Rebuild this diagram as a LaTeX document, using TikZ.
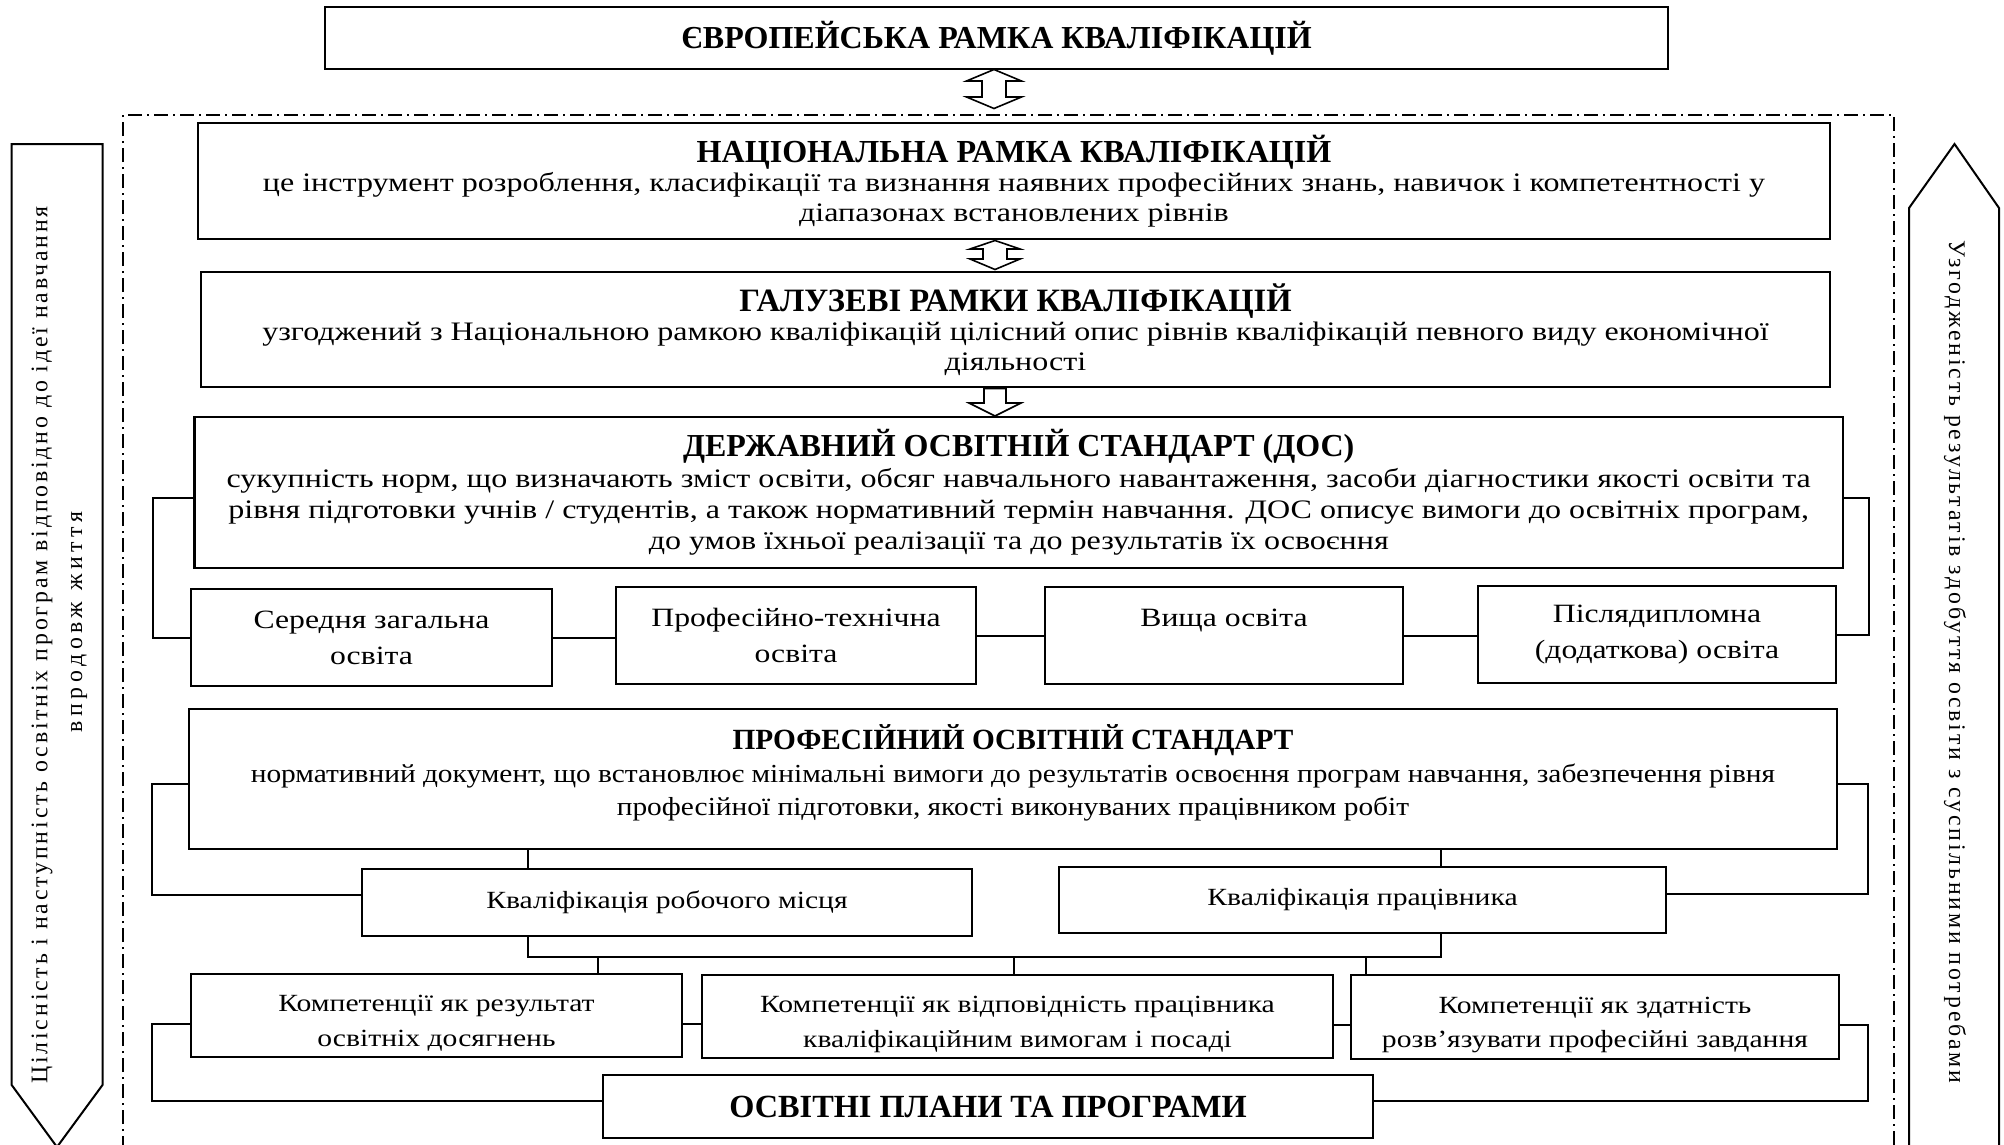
\documentclass[tikz,border=0pt]{standalone}
\usepackage{fontspec}
\setmainfont{Liberation Serif}
\newfontfamily\bodyfont[FakeStretch=1.2]{Liberation Serif}
\newfontfamily\proffont[FakeStretch=1.13]{Liberation Serif}
\newfontfamily\sidefont[LetterSpace=12]{Liberation Serif}
\newfontfamily\sidefontb[LetterSpace=19.6]{Liberation Serif}
\begin{document}
\begin{tikzpicture}[x=1pt,y=-1pt,
  box/.style={draw, line width=2.6pt, align=center, inner sep=0pt},
  bodytxt/.style={font=\bodyfont\fontsize{26.7}{29.5}\selectfont},
  smalltxt/.style={font=\bodyfont\fontsize{26.4}{36}\selectfont},
  comptxt/.style={font=\bodyfont\fontsize{24.7}{34.5}\selectfont},
  titletxt/.style={font=\rmfamily\fontsize{32}{36}\selectfont\bfseries},
  conn/.style={line width=2pt},
  blockarrow/.style={draw, line width=1.6pt, line join=miter},
  sidearrow/.style={draw, line width=2pt, line join=miter},
  frameline/.style={line width=1.6pt, dash pattern=on 14pt off 5pt on 2pt off 5pt},
  sidetxt/.style={font=\sidefont\fontsize{23.8}{26}\selectfont, inner sep=0pt}
]
\useasboundingbox (0,0) rectangle (2004,1144);
\fill[white] (0,0) rectangle (2004,1144);

% dash-dot frame
\coordinate (fl) at (123,1150);
\coordinate (fr) at (1894,1150);
\draw[frameline] (fl) -- (fl |- 0,115) -- (fr |- 0,115) -- (fr);

% side arrows
\draw[sidearrow] (11.7,144) -- (102.5,144) -- (102.5,1085) -- (57,1147) -- (11.7,1085) -- cycle;
\draw[sidearrow] (1954.5,144) -- (1999,208) -- (1999,1170) -- (1909,1170) -- (1909,208) -- cycle;
\node[sidetxt, rotate=90] (lt1) at (42,645) {Цілісність і наступність освітніх програм відповідно до ідеї навчання};
\node[sidetxt, font=\sidefontb\fontsize{23.8}{26}\selectfont, rotate=90] (lt2) at (79,622) {впродовж життя};
\node[sidetxt, rotate=-90] (rt) at (1955,662) {Узгодженість результатів здобуття освіти з суспільними потребами};

% main boxes
\node[box, titletxt, minimum width=1343, minimum height=62] (eu) at (996.5,38) {ЄВРОПЕЙСЬКА РАМКА КВАЛІФІКАЦІЙ};
\node[box, bodytxt, minimum width=1632, minimum height=116] (nac) at (1014,181)
 {{\rmfamily\fontsize{32.1}{34}\selectfont\bfseries НАЦІОНАЛЬНА РАМКА КВАЛІФІКАЦІЙ}\\
  це інструмент розроблення, класифікації та визнання наявних професійних знань, навичок і компетентності у\\
  діапазонах встановлених рівнів};
\node[box, bodytxt, minimum width=1629, minimum height=115] (gal) at (1015.5,329.5)
 {{\rmfamily\fontsize{32.6}{34}\selectfont\bfseries ГАЛУЗЕВІ РАМКИ КВАЛІФІКАЦІЙ}\\
  узгоджений з Національною рамкою кваліфікацій цілісний опис рівнів кваліфікацій певного виду економічної\\
  діяльності};
\node[box, bodytxt, font=\bodyfont\fontsize{26.7}{31}\selectfont, minimum width=1648.5, minimum height=151] (dos) at (1018.75,492.5)
 {{\rmfamily\fontsize{32}{34}\selectfont\bfseries ДЕРЖАВНИЙ ОСВІТНІЙ СТАНДАРТ (ДОС)}\\
  сукупність норм, що визначають зміст освіти, обсяг навчального навантаження, засоби діагностики якості освіти та\\
  рівня підготовки учнів / студентів, а також нормативний термін навчання. ДОС описує вимоги до освітніх програм,\\
  до умов їхньої реалізації та до результатів їх освоєння};
\node[box, smalltxt, minimum width=361, minimum height=97] (e1) at (371.5,637.5) {Середня загальна\\освіта};
\node[box, smalltxt, minimum width=360, minimum height=97] (e2) at (796,635.5) {Професійно-технічна\\освіта};
\node[box, smalltxt, minimum width=358, minimum height=97] (e3) at (1224,635.5) {Вища освіта\\\phantom{о}};
\node[box, smalltxt, minimum width=358, minimum height=97] (e4) at (1657,634.5) {Післядипломна\\(додаткова) освіта};
\node[box, minimum width=1648, minimum height=140] (prof) at (1013,779) {};
\node[align=center, inner sep=0pt, font=\proffont\fontsize{26}{33}\selectfont] (proftxt) at ([yshift=6pt]prof.center)
 {{\rmfamily\fontsize{29.3}{34}\selectfont\bfseries ПРОФЕСІЙНИЙ ОСВІТНІЙ СТАНДАРТ}\\
  нормативний документ, що встановлює мінімальні вимоги до результатів освоєння програм навчання, забезпечення рівня\\
  професійної підготовки, якості виконуваних працівником робіт};
\node[box, comptxt, minimum width=610, minimum height=67] (kr) at (667,902.5) {Кваліфікація робочого місця};
\node[box, comptxt, minimum width=607, minimum height=66] (kp) at (1362.5,900) {Кваліфікація працівника};
\node[box, comptxt, minimum width=491, minimum height=83] (c1) at (436.5,1015.5) {\rule{0pt}{32pt}Компетенції як результат\\освітніх досягнень};
\node[box, comptxt, minimum width=631, minimum height=83] (c2) at (1017.5,1016.5) {\rule{0pt}{32pt}Компетенції як відповідність працівника\\кваліфікаційним вимогам і посаді};
\node[box, comptxt, minimum width=488, minimum height=84] (c3) at (1595,1017) {\rule{0pt}{32pt}Компетенції як здатність\\розв’язувати професійні завдання};
\node[box, titletxt, font=\rmfamily\fontsize{32.3}{36}\selectfont\bfseries, minimum width=770, minimum height=63] (osv) at (988,1106.5) {ОСВІТНІ ПЛАНИ ТА ПРОГРАМИ};

% block arrows
\draw[blockarrow] (994,69.5) -- (1021.5,81) -- (1006,81) -- (1006,97) -- (1021.5,97) -- (994,108.5) -- (966.5,97) -- (982,97) -- (982,81) -- (966.5,81) -- cycle;
\draw[blockarrow] (995,240.5) -- (1020,249) -- (1007,249) -- (1007,259) -- (1020,259) -- (995,269.5) -- (970,259) -- (983,259) -- (983,249) -- (970,249) -- cycle;
\draw[blockarrow] (984,388.5) -- (1006,388.5) -- (1006,403) -- (1021,403) -- (995,416) -- (969,403) -- (984,403) -- cycle;

% connectors: ДОС level
\draw[conn] ([yshift=-5pt]dos.west) -- ++(-40,0) |- (e1.west);
\draw[conn] ([yshift=-5pt]dos.east) -- ++(25,0) |- (e4.east);
\draw[conn] (e1.east) -- (e1.east -| e2.west);
\draw[conn] (e2.east) -- (e2.east -| e3.west);
\draw[conn] (e3.east) -- (e3.east -| e4.west);

% ПРОФ level
\coordinate (j1) at (528,0);
\coordinate (j2) at (1441,0);
\coordinate (hb) at (0,957);
\draw[conn] ([yshift=-5pt]prof.west) -- ++(-36,0) |- ([yshift=8pt]kr.west);
\draw[conn] ([yshift=-5pt]prof.east) -- ++(30,0) |- ([yshift=6pt]kp.east);
\draw[conn] (j1 |- prof.south) -- (j1 |- kr.north);
\draw[conn] (j2 |- prof.south) -- (j2 |- kp.north);
\draw[conn] (j1 |- kr.south) -- (j1 |- hb) -- (j2 |- hb) -- (j2 |- kp.south);
\coordinate (d1) at (598,0);
\coordinate (d2) at (1014,0);
\coordinate (d3) at (1366,0);
\draw[conn] (d1 |- hb) -- (d1 |- c1.north);
\draw[conn] (d2 |- hb) -- (d2 |- c2.north);
\draw[conn] (d3 |- hb) -- (d3 |- c3.north);

% competences level
\draw[conn] ([yshift=-8pt]c1.east) -- ([yshift=-8pt]c1.east -| c2.west);
\draw[conn] ([yshift=-8pt]c2.east) -- ([yshift=-8pt]c2.east -| c3.west);
\draw[conn] ([yshift=-8pt]c1.west) -- ++(-38,0) |- ([yshift=6pt]osv.west);
\draw[conn] ([yshift=-8pt]c3.east) -- ++(28,0) |- ([yshift=6pt]osv.east);
\end{tikzpicture}
\end{document}
